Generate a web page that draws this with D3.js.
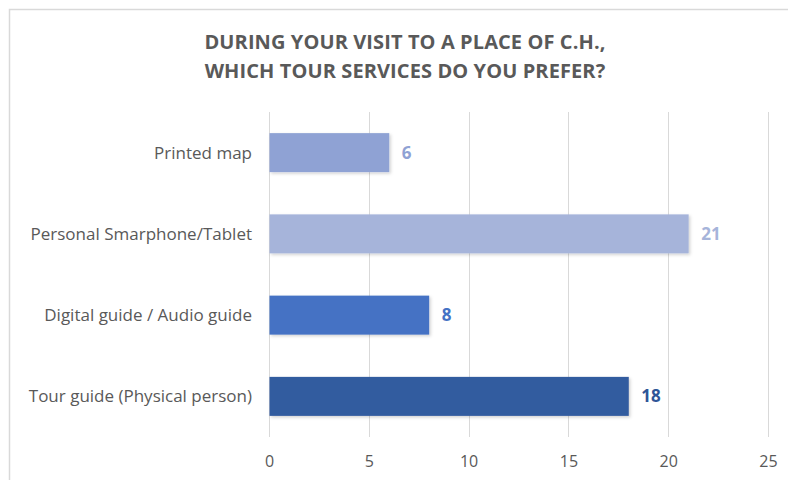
<!DOCTYPE html>
<html>
<head>
<meta charset="utf-8">
<script src="https://cdn.jsdelivr.net/npm/d3@7"></script>
<style>
  html, body { margin: 0; padding: 0; background: #ffffff; }
  svg { display: block; }
</style>
</head>
<body>
<svg id="chart" width="788" height="480"></svg>
<script>
// Survey answers, top to bottom as drawn
const categories = [
  "Printed map",
  "Personal Smarphone/Tablet",
  "Digital guide / Audio guide",
  "Tour guide (Physical person)"
];
const counts = [6, 21, 8, 18];
const barColors = ["#8FA2D4", "#A6B4DA", "#4472C4", "#335B9F"];
const labelColors = ["#8FA2D4", "#A6B4DA", "#4472C4", "#2F5597"];
const xTicks = [0, 5, 10, 15, 20, 25];
const titleLines = [
  "DURING YOUR VISIT TO A PLACE OF C.H.,",
  "WHICH TOUR SERVICES DO YOU PREFER?"
];

const svg = d3.select("#chart");
const font = "'Open Sans', Lato, 'DejaVu Sans', sans-serif";

// soft shadow under the bars
const defs = svg.append("defs");
const f = defs.append("filter").attr("id", "barShadow")
  .attr("x", "-5%").attr("y", "-20%").attr("width", "115%").attr("height", "150%");
f.append("feDropShadow").attr("dx", 1.5).attr("dy", 1.5).attr("stdDeviation", 1.5)
  .attr("flood-color", "#000").attr("flood-opacity", 0.18);

// chart frame (left and top edges visible)
svg.append("path")
  .attr("d", "M9.5,480 V9.5 H788")
  .attr("fill", "none").attr("stroke", "#D9D9D9").attr("stroke-width", 1.5);

const plot = { left: 269, right: 768, top: 112, bottom: 437 };

const x = d3.scaleLinear().domain([0, 25]).range([plot.left, plot.right]);
const y = d3.scaleBand().domain(categories).range([plot.top, plot.bottom]).paddingInner(0.52).paddingOuter(0.26);

// vertical gridlines
svg.append("g").selectAll("line").data(xTicks).join("line")
  .attr("x1", d => Math.round(x(d)) + 0.5).attr("x2", d => Math.round(x(d)) + 0.5)
  .attr("y1", plot.top).attr("y2", plot.bottom)
  .attr("stroke", "#D9D9D9").attr("stroke-width", 1);

// x axis tick labels
const xAxis = d3.axisBottom(x).tickValues(xTicks).tickSize(0).tickPadding(0);
const gx = svg.append("g").attr("transform", `translate(0,${plot.bottom + 30})`).call(xAxis);
gx.select(".domain").remove();
gx.selectAll("text")
  .attr("dy", 0)
  .attr("fill", "#595959").style("font-family", font).style("font-size", "16px");

// category labels
const yAxis = d3.axisLeft(y).tickSize(0).tickPadding(0);
const gy = svg.append("g").attr("transform", `translate(252,0)`).call(yAxis);
gy.select(".domain").remove();
gy.selectAll("text")
  .attr("x", 0).attr("dy", "0.35em")
  .attr("fill", "#595959").style("font-family", font).style("font-size", "17px");

// bars
svg.append("g").selectAll("rect").data(categories).join("rect")
  .attr("x", x(0) + 0.5)
  .attr("y", d => y(d))
  .attr("width", (d, i) => x(counts[i]) - x(0))
  .attr("height", y.bandwidth())
  .attr("fill", (d, i) => barColors[i])
  .attr("filter", "url(#barShadow)");

// value labels
svg.append("g").selectAll("text").data(categories).join("text")
  .attr("x", (d, i) => x(counts[i]) + 13)
  .attr("y", d => y(d) + y.bandwidth() / 2)
  .attr("dy", "0.35em")
  .attr("fill", (d, i) => labelColors[i])
  .style("font-family", font).style("font-size", "17px").style("font-weight", "bold")
  .text((d, i) => counts[i]);

// title
svg.append("g").selectAll("text").data(titleLines).join("text")
  .attr("x", 405)
  .attr("y", (d, i) => 49 + i * 29)
  .attr("text-anchor", "middle")
  .attr("fill", "#595959")
  .style("font-family", font).style("font-size", "20px").style("font-weight", "bold")
  .style("letter-spacing", "0.1px")
  .text(d => d);
</script>
</body>
</html>
